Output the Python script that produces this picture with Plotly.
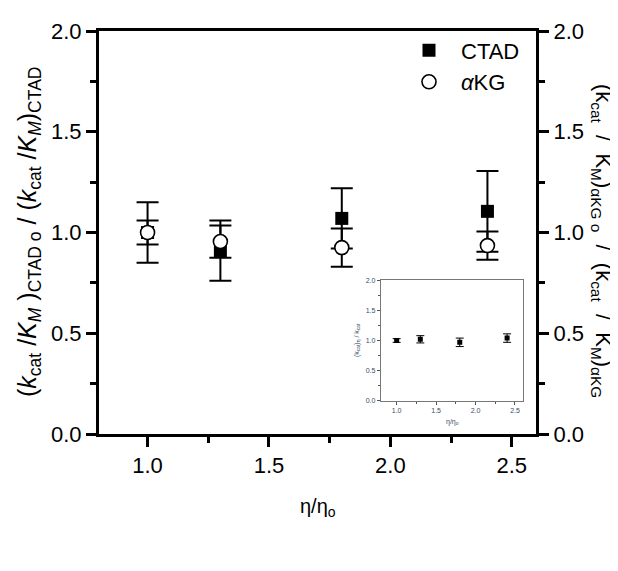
import plotly.graph_objects as go

# ---- data ----
eta = [1.0, 1.3, 1.8, 2.4]
ctad = [1.0, 0.91, 1.07, 1.105]
ctad_err = [0.15, 0.15, 0.15, 0.20]
akg = [1.0, 0.955, 0.925, 0.935]
akg_err = [0.06, 0.08, 0.095, 0.07]

inset_eta = [1.0, 1.3, 1.8, 2.4]
inset_val = [1.0, 1.02, 0.97, 1.04]
inset_err = [0.03, 0.06, 0.07, 0.07]

xticks = [1.0, 1.5, 2.0, 2.5]
yticks = [0.0, 0.5, 1.0, 1.5, 2.0]

FONT = "Liberation Sans, Arial, sans-serif"

fig = go.Figure()

fig.add_trace(go.Scatter(
    x=eta, y=ctad, mode="markers", name="CTAD",
    marker=dict(symbol="square", size=13, color="black", line=dict(width=0)),
    error_y=dict(type="data", array=ctad_err, visible=True, color="black", thickness=2, width=11),
    xaxis="x", yaxis="y"))
fig.add_trace(go.Scatter(
    x=eta, y=akg, mode="markers", name="<i>\u03b1</i>KG",
    marker=dict(symbol="circle", size=14, color="white", line=dict(width=1.6, color="black")),
    error_y=dict(type="data", array=akg_err, visible=True, color="black", thickness=2, width=11),
    xaxis="x", yaxis="y"))

# inset
fig.add_trace(go.Scatter(
    x=inset_eta, y=inset_val, mode="markers", showlegend=False,
    marker=dict(symbol="square", size=5, color="black"),
    error_y=dict(type="data", array=inset_err, visible=True, color="black", thickness=1, width=4),
    xaxis="x3", yaxis="y3"))

axis_common = dict(showgrid=False, zeroline=False, linecolor="black", linewidth=3,
                   ticks="outside", tickwidth=2.5, ticklen=10, tickcolor="black",
                   tickfont=dict(family=FONT, size=22, color="black"))

# page body has an 8px margin: compensate so the plot lands where the reference has it
W, H = 610, 563
L, R, T, B = 91, 82, 23, 137
PW = W - L - R  # 437
PH = H - T - B  # 403
OFF = 8


def px_x(page_x):
    return (page_x - OFF - L) / PW


def px_y(page_y):
    return (OFF + T + PH - page_y) / PH


fig.update_layout(
    width=W, height=H,
    margin=dict(l=L, r=R, t=T, b=B),
    paper_bgcolor="white", plot_bgcolor="white",
    font=dict(family=FONT, color="black"),
    xaxis=dict(range=[0.8, 2.6], tickvals=xticks, ticktext=[f"{v:.1f}" for v in xticks],
               minor=dict(ticks="outside", ticklen=6, tickwidth=2.5, tickcolor="black", dtick=0.25, tick0=0.75),
               mirror=True, showline=True, **axis_common),
    yaxis=dict(range=[0, 2], tickvals=yticks, ticktext=[f"{v:.1f}" for v in yticks],
               minor=dict(ticks="outside", ticklen=6, tickwidth=2.5, tickcolor="black", dtick=0.25, tick0=0),
               showline=True, **axis_common),
    yaxis2=dict(range=[0, 2], tickvals=yticks, ticktext=[f"{v:.1f}" for v in yticks],
                minor=dict(ticks="outside", ticklen=6, tickwidth=2.5, tickcolor="black", dtick=0.25, tick0=0),
                overlaying="y", side="right", anchor="x", showline=True, **axis_common),
    xaxis3=dict(domain=[0.645, 0.970], anchor="y3", range=[0.8, 2.6], tickvals=xticks,
                ticktext=[f"{v:.1f}" for v in xticks], showgrid=False, zeroline=False,
                showline=True, mirror=True, linecolor="#777777", linewidth=1,
                ticks="outside", ticklen=3, tickwidth=1, tickcolor="#555555",
                minor=dict(ticks="outside", ticklen=2, tickwidth=1, tickcolor="#555555", dtick=0.25, tick0=0.75),
                tickfont=dict(family=FONT, size=7, color="#3a4a6a")),
    yaxis3=dict(domain=[0.082, 0.382], anchor="x3", range=[0, 2], tickvals=yticks,
                ticktext=[f"{v:.1f}" for v in yticks], showgrid=False, zeroline=False,
                showline=True, mirror=True, linecolor="#777777", linewidth=1,
                ticks="outside", ticklen=3, tickwidth=1, tickcolor="#555555",
                minor=dict(ticks="outside", ticklen=2, tickwidth=1, tickcolor="#555555", dtick=0.25, tick0=0),
                tickfont=dict(family=FONT, size=7, color="#3a4a6a")),
    legend=dict(x=px_x(397), y=1.004, xanchor="left", yanchor="top", bgcolor="rgba(0,0,0,0)",
                font=dict(family=FONT, size=22, color="black"), itemwidth=54, tracegroupgap=0),
    showlegend=True,
)

# dummy trace to activate yaxis2
fig.add_trace(go.Scatter(x=[None], y=[None], xaxis="x", yaxis="y2", showlegend=False, hoverinfo="skip"))

fig.add_annotation(
    text="(<i>k</i><sub>cat</sub> /<i>K</i><sub><i>M</i></sub> )<sub>CTAD o</sub> / (<i>k</i><sub>cat</sub> /<i>K</i><sub><i>M</i></sub>)<sub>CTAD</sub>",
    xref="paper", yref="paper", x=px_x(29), y=px_y(232), xanchor="center", yanchor="middle",
    textangle=-90, showarrow=False, font=dict(family=FONT, size=25, color="black"))
fig.add_annotation(
    text="(k<sub>cat</sub>  /  K<sub>M</sub>)<sub>\u03b1KG o</sub>  /  (k<sub>cat</sub>  /  K<sub>M</sub>)<sub>\u03b1KG</sub>",
    xref="paper", yref="paper", x=px_x(602), y=px_y(241), xanchor="center", yanchor="middle",
    textangle=90, showarrow=False, font=dict(family=FONT, size=22, color="black"))
fig.add_annotation(
    text="\u03b7/\u03b7<sub>o</sub>", xref="paper", yref="paper", x=0.5, y=px_y(507),
    xanchor="center", yanchor="middle", showarrow=False, font=dict(family=FONT, size=20, color="black"))
# inset titles
fig.add_annotation(
    text="(k<sub>cat</sub>)<sub>\u03b7</sub> / k<sub>cat</sub>", xref="paper", yref="paper",
    x=px_x(357), y=px_y(340), xanchor="center", yanchor="middle",
    textangle=-90, showarrow=False, font=dict(family=FONT, size=7, color="#3a4a6a"))
fig.add_annotation(
    text="\u03b7/\u03b7<sub>o</sub>", xref="paper", yref="paper",
    x=px_x(452), y=px_y(422), xanchor="center", yanchor="middle",
    showarrow=False, font=dict(family=FONT, size=7, color="#3a4a6a"))

fig.write_html("out.html")
